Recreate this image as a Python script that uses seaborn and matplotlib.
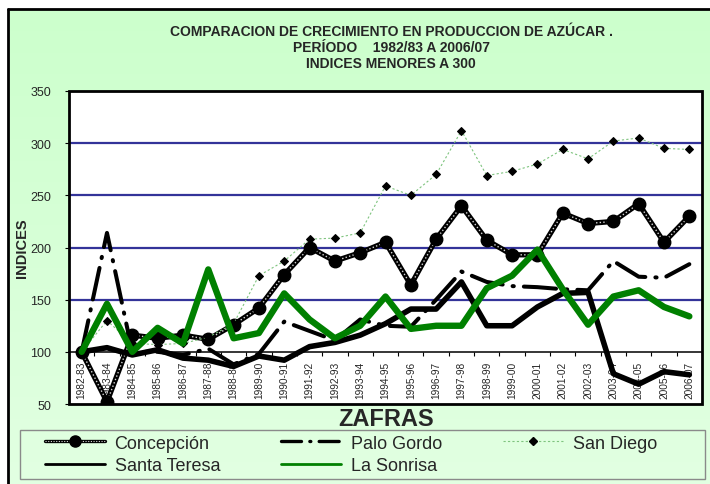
import numpy as np
import pandas as pd
import matplotlib
matplotlib.use("Agg")
import matplotlib.pyplot as plt
import seaborn as sns
from matplotlib.lines import Line2D
from matplotlib.patches import Rectangle
from matplotlib.colors import LinearSegmentedColormap

# ---------------- data ----------------
zafras = ["1982-83", "1983-84", "1984-85", "1985-86", "1986-87", "1987-88",
          "1988-89", "1989-90", "1990-91", "1991-92", "1992-93", "1993-94",
          "1994-95", "1995-96", "1996-97", "1997-98", "1998-99", "1999-00",
          "2000-01", "2001-02", "2002-03", "2003-04", "2004-05", "2005-06",
          "2006-07"]
concepcion = [100, 52, 116, 113, 116, 112, 126, 142, 174, 200, 187, 195, 205,
              164, 208, 240, 207, 193, 193, 233, 223, 225, 242, 205, 230]
palo_gordo = [100, 214, 100, 100, 97, 103, 88, 98, 129, 120, 111, 131, 125,
              124, 150, 177, 167, 163, 162, 160, 159, 187, 172, 171, 184]
san_diego = [100, 130, 108, 107, 108, 114, 127, 173, 187, 208, 209, 214, 259,
             250, 270, 312, 269, 273, 280, 294, 285, 302, 305, 295, 294]
santa_teresa = [100, 104, 97, 102, 94, 92, 86, 96, 92, 105, 109, 116, 127,
                141, 141, 167, 125, 125, 143, 156, 157, 79, 69, 81, 78]
la_sonrisa = [100, 146, 100, 123, 108, 179, 113, 118, 156, 131, 113, 125, 153,
              122, 125, 125, 161, 173, 198, 160, 126, 153, 159, 143, 134]
y_ticks = [50, 100, 150, 200, 250, 300, 350]
grid_levels = [150, 200, 250, 300]

title_lines = ["COMPARACION DE CRECIMIENTO EN PRODUCCION DE AZÚCAR .",
               "PERÍODO    1982/83 A 2006/07",
               "INDICES MENORES A 300"]

# ---------------- style ----------------
sns.set_theme(style="white")
plt.rcParams['font.family'] = ['Liberation Sans', 'DejaVu Sans']

W, H = 710, 485
fig = plt.figure(figsize=(W / 100, H / 100), dpi=100)
fig.patch.set_facecolor('white')

# background panel with soft gradient
bg = fig.add_axes([8 / W, 0, 1 - 8 / W, 1 - 10 / H], zorder=-10)
grad = np.linspace(0, 1, 256).reshape(-1, 1)
cmap = LinearSegmentedColormap.from_list('g', ['#CCFFCC', '#E2FFE2'])
bg.imshow(grad, aspect='auto', cmap=cmap, extent=[0, 1, 0, 1], origin='upper')
bg.set_axis_off()
fig.add_artist(Line2D([8 / W, 8 / W], [0, 1 - 10 / H], color='black', lw=2,
                      transform=fig.transFigure))
fig.add_artist(Line2D([8 / W, 1], [1 - 10 / H, 1 - 10 / H], color='black', lw=2,
                      transform=fig.transFigure))

# plot area
ax = fig.add_axes([69 / W, 1 - 405 / H, 633 / W, 313 / H])
ax.set_facecolor('white')
x = np.arange(len(zafras))
df = pd.DataFrame({'x': x, 'Concepción': concepcion, 'Palo Gordo': palo_gordo,
                   'San Diego': san_diego, 'Santa Teresa': santa_teresa,
                   'La Sonrisa': la_sonrisa})

for g in grid_levels:
    ax.axhline(g, color='#333399', lw=1.6, zorder=1)

# Concepción: thick black with light dotted core and circles
sns.lineplot(data=df, x='x', y='Concepción', ax=ax, color='black', lw=3.8,
             zorder=3.0, legend=False)
ax.plot(df['x'], df['Concepción'], color='#d8d8d8', lw=1.0,
        linestyle=(0, (1, 1.6)), zorder=3.05)
ax.plot(df['x'], df['Concepción'], ls='none', marker='o', ms=9,
        color='black', zorder=3.1)

# Palo Gordo: dash-dot black
sns.lineplot(data=df, x='x', y='Palo Gordo', ax=ax, color='black', lw=2.9,
             dashes=(8, 2.5, 0.3, 2.5), dash_capstyle='round', zorder=3.3,
             legend=False)

# San Diego: thin dotted light green with black diamonds
sns.lineplot(data=df, x='x', y='San Diego', ax=ax, color='#7FC47F', lw=0.8,
             dashes=(2, 2), marker='D', ms=4, markerfacecolor='black',
             markeredgecolor='black', zorder=3.4, legend=False)

# Santa Teresa: thick black solid
sns.lineplot(data=df, x='x', y='Santa Teresa', ax=ax, color='black', lw=4.0,
             zorder=3.5, legend=False)

# La Sonrisa: thick green
sns.lineplot(data=df, x='x', y='La Sonrisa', ax=ax, color='#008000', lw=4.6,
             zorder=3.6, legend=False)

ax.set_xlim(-0.5, len(zafras) - 0.5)
ax.set_ylim(50, 350)
ax.set_axisbelow(True)
for s in ['left', 'right', 'top']:
    ax.spines[s].set_visible(False)
ax.spines['bottom'].set_position(('data', 100))
ax.spines['bottom'].set_color('black')
ax.spines['bottom'].set_linewidth(1.1)
ax.add_patch(Rectangle((0, 0), 1, 1, transform=ax.transAxes, fill=False,
                       ec='black', lw=2, zorder=5, clip_on=False))

ax.set_xticks(x)
ax.set_xticklabels(zafras, rotation=90, fontsize=7.3)
ax.set_xticks(np.arange(-0.5, len(zafras), 1), minor=True)
ax.tick_params(axis='x', which='major', length=0, pad=6.5)
ax.tick_params(axis='x', which='minor', length=3, width=0.8, color='black',
               direction='out', bottom=True)
ax.set_yticks(y_ticks)
ax.set_yticklabels([str(v) for v in y_ticks], fontsize=9)
ax.tick_params(axis='y', which='major', length=3, width=0.8, color='black',
               direction='out', pad=10, left=True)
ax.set_xlabel('')
ax.set_ylabel('')

fig.text(22 / W, 1 - 248 / H, 'INDICES', rotation=90, ha='center', va='center',
         fontsize=10.5, fontweight='bold')
fig.text(386 / W, 1 - 419 / H, 'ZAFRAS', ha='center', va='center',
         fontsize=17, fontweight='bold')
for i, t in enumerate(title_lines):
    fig.text(391 / W, 1 - (32 + 16 * i) / H, t, ha='center', va='center',
             fontsize=10, fontweight='bold')

# legend
fig.add_artist(Rectangle((20 / W, 5 / H), 685 / W, 49 / H,
                         transform=fig.transFigure, fill=False,
                         ec='#8a8a8a', lw=1))
h_conc = (Line2D([], [], color='black', lw=2.4),
          Line2D([], [], color='#d8d8d8', lw=0.8, linestyle=(0, (1, 1.4))),
          Line2D([], [], ls='none', marker='o', ms=8, color='black'))
h_palo = Line2D([], [], color='black', lw=2.4, dashes=(6, 2.5, 0.3, 2.5),
                dash_capstyle='round')
h_sd = Line2D([], [], color='#7FC47F', lw=0.8, dashes=(2, 2), marker='D', ms=4,
              markerfacecolor='black', markeredgecolor='black')
h_st = Line2D([], [], color='black', lw=2.0)
h_ls = Line2D([], [], color='#008000', lw=2.0)
handles = [h_conc, h_st, h_palo, h_ls, h_sd]
labels = ['Concepción', 'Santa Teresa', 'Palo Gordo', 'La Sonrisa', 'San Diego']
fig.legend(handles, labels, loc='center', ncol=3,
           bbox_to_anchor=(45 / W, 5 / H, 612 / W, 49 / H),
           bbox_transform=fig.transFigure, mode='expand', frameon=False,
           fontsize=13, handlelength=3.3, handletextpad=0.55,
           labelspacing=0.3, borderpad=0, borderaxespad=0)

fig.savefig('out.png', dpi=100)
